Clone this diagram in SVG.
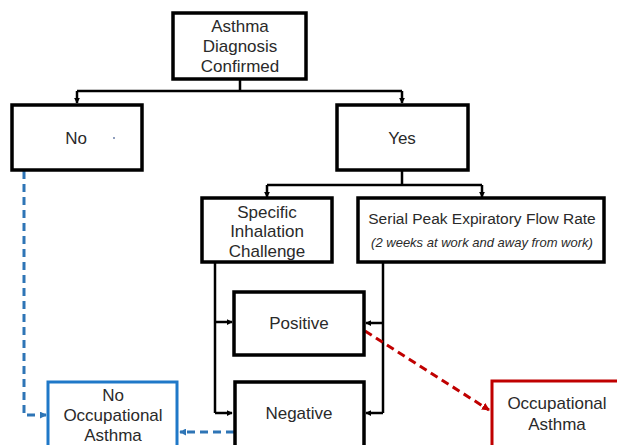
<svg xmlns="http://www.w3.org/2000/svg" width="617" height="445" viewBox="0 0 617 445">
  <defs>
    <marker id="arrow" viewBox="0 0 8 8" refX="7" refY="4" markerWidth="6" markerHeight="6" markerUnits="userSpaceOnUse" orient="auto">
      <path d="M0,0 L8,4 L0,8 z" fill="#000"/>
    </marker>
    <marker id="arrowBlue" viewBox="0 0 8 8" refX="7" refY="4" markerWidth="7" markerHeight="7" markerUnits="userSpaceOnUse" orient="auto">
      <path d="M0,0 L8,4 L0,8 z" fill="#2e75b6"/>
    </marker>
    <marker id="arrowRed" viewBox="0 0 8 8" refX="7" refY="4" markerWidth="8" markerHeight="8" markerUnits="userSpaceOnUse" orient="auto">
      <path d="M0,0 L8,4 L0,8 z" fill="#c00000"/>
    </marker>
  </defs>
  <style>
    .box { fill: #fff; stroke: #000; stroke-width: 3.5; }
    .box-blue { fill: #fff; stroke: #1f78c8; stroke-width: 3; }
    .box-red { fill: #fff; stroke: #c00000; stroke-width: 3; }
    .label { font-family: "Liberation Sans", Arial, sans-serif; font-size: 17px; fill: #2a2a2a; text-anchor: middle; }
    .title { font-size: 15.5px; }
    .small { font-size: 13px; font-style: italic; }
    .link { fill: none; stroke: #000; stroke-width: 2.5; }
    .link-blue { fill: none; stroke: #2e75b6; stroke-width: 3; stroke-dasharray: 8 5; }
    .link-red { fill: none; stroke: #c00000; stroke-width: 3; stroke-dasharray: 8 5; }
  </style>
  <rect width="617" height="445" fill="#fff"/>

  <!-- connectors -->
  <g id="connectors">
    <path class="link" d="M240,80 V91 M77,91 H402"/>
    <path class="link" d="M77,91 V103" marker-end="url(#arrow)"/>
    <path class="link" d="M402,91 V103" marker-end="url(#arrow)"/>
    <path class="link" d="M402,170 V185 M267,185 H482"/>
    <path class="link" d="M267,185 V197" marker-end="url(#arrow)"/>
    <path class="link" d="M482,185 V197" marker-end="url(#arrow)"/>
    <path class="link" d="M215,263 V413"/>
    <path class="link" d="M215,322 H232" marker-end="url(#arrow)"/>
    <path class="link" d="M215,413 H232" marker-end="url(#arrow)"/>
    <path class="link" d="M383,262 V413"/>
    <path class="link" d="M383,323 H366" marker-end="url(#arrow)"/>
    <path class="link" d="M383,413 H366" marker-end="url(#arrow)"/>
    <path class="link-blue" d="M24,171 V415 H46" marker-end="url(#arrowBlue)"/>
    <path class="link-blue" d="M234,432 H180" marker-end="url(#arrowBlue)"/>
    <path class="link-red" d="M365,331 L489,410" marker-end="url(#arrowRed)"/>
  </g>

  <g id="diagnosis">
    <rect class="box" x="173" y="13" width="133" height="66"/>
    <text class="label" x="240" y="32">Asthma</text>
    <text class="label" x="240" y="52">Diagnosis</text>
    <text class="label" x="240" y="72">Confirmed</text>
  </g>

  <g id="no">
    <rect class="box" x="12" y="105" width="130" height="65"/>
    <text class="label" x="76" y="144">No</text>
    <circle cx="114" cy="138" r="1" fill="#6b7fa8"/>
  </g>

  <g id="yes">
    <rect class="box" x="337" y="105" width="131" height="65"/>
    <text class="label" x="402" y="144">Yes</text>
  </g>

  <g id="inhalation">
    <rect class="box" x="202" y="198" width="130" height="64"/>
    <text class="label" x="267" y="218">Specific</text>
    <text class="label" x="267" y="237">Inhalation</text>
    <text class="label" x="267" y="257">Challenge</text>
  </g>

  <g id="peak-flow">
    <rect class="box" x="358" y="198" width="246" height="64"/>
    <text class="label title" x="482" y="224">Serial Peak Expiratory Flow Rate</text>
    <text class="label small" x="482" y="247">(2 weeks at work and away from work)</text>
  </g>

  <g id="positive">
    <rect class="box" x="234" y="292" width="130" height="63"/>
    <text class="label" x="299" y="329">Positive</text>
  </g>

  <g id="negative">
    <rect class="box" x="235" y="382" width="129" height="70"/>
    <text class="label" x="299" y="419">Negative</text>
  </g>

  <g id="no-occupational">
    <rect class="box-blue" x="48" y="382" width="129" height="70"/>
    <text class="label" x="113" y="401">No</text>
    <text class="label" x="113" y="421">Occupational</text>
    <text class="label" x="113" y="441">Asthma</text>
  </g>

  <g id="occupational">
    <rect class="box-red" x="492" y="381" width="135" height="70"/>
    <text class="label" x="557" y="409">Occupational</text>
    <text class="label" x="557" y="430">Asthma</text>
  </g>
</svg>
